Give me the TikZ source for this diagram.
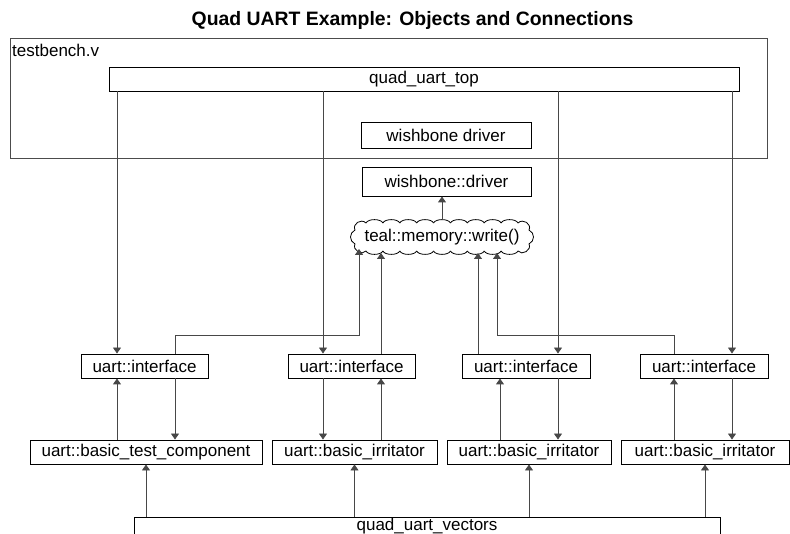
\documentclass[tikz,border=0pt]{standalone}
\usepackage{fontspec}
\setmainfont{Liberation Sans}
\usetikzlibrary{arrows.meta}
\begin{document}
\begin{tikzpicture}[x=1pt,y=-1pt,
  lbl/.style={font=\fontsize{17}{20}\selectfont},
  box/.style={draw=black, line width=0.9pt, inner sep=0pt, lbl},
  conn/.style={draw=black!72, line width=0.9pt, -{Triangle[width=8pt,length=6pt]}},
  cloudline/.style={draw=black, line width=0.8pt}]
\useasboundingbox (0,0) rectangle (790,534);
\clip (0,0) rectangle (790,534);
% title
\node[font=\fontsize{19.4}{22}\selectfont\bfseries, anchor=base, inner sep=0pt] (title) at (412.5,26) {Quad UART Example: Objects and Connections};
% testbench
\node[draw=black!70, line width=0.9pt, minimum width=757pt, minimum height=120pt, inner sep=0pt] (tb) at (388.5,98) {};
\node[lbl, anchor=base west, inner sep=0pt] (tbl) at (12,57) {testbench.v};
% top boxes
\node[box, minimum width=630pt, minimum height=24pt] (top) at (424,79) {quad\_uart\_top};
\node[box, minimum width=170pt, minimum height=26pt] (wd1) at (446,135) {wishbone driver};
\node[box, minimum width=169pt, minimum height=29pt] (wd2) at (446.5,181.5) {wishbone::driver};
% cloud
\node[lbl, inner sep=0pt, minimum width=176pt, minimum height=34pt] (cl) at (442,237) {teal::memory::write()};
\foreach \i in {0,...,8} {
  \draw[cloudline] ({366+\i*16.889},223) .. controls ({366+\i*16.889+2},218.5) and ({366+(\i+1)*16.889-2},218.5) .. ({366+(\i+1)*16.889},223);
  \draw[cloudline] ({366+\i*16.889},251) .. controls ({366+\i*16.889+2},255.5) and ({366+(\i+1)*16.889-2},255.5) .. ({366+(\i+1)*16.889},251);
}
\draw[cloudline] (366,251) .. controls (362,256) and (352,250) .. (355,244)
  .. controls (349,241) and (349,233) .. (355,230)
  .. controls (352,224) and (361,218) .. (366,223);
\draw[cloudline] (518,251) .. controls (522,256) and (532,250) .. (529,244)
  .. controls (535,241) and (535,233) .. (529,230)
  .. controls (532,224) and (523,218) .. (518,223);
% interfaces
\node[box, minimum width=127pt, minimum height=24pt] (I1) at (144.5,366) {uart::interface};
\node[box, minimum width=127pt, minimum height=24pt] (I2) at (351.5,366) {uart::interface};
\node[box, minimum width=128pt, minimum height=24pt] (I3) at (526,366) {uart::interface};
\node[box, minimum width=128pt, minimum height=24pt] (I4) at (704,366) {uart::interface};
% components
\node[box, minimum width=232pt, minimum height=24pt] (B1) at (146,452) {uart::basic\_test\_component};
\node[box, minimum width=165pt, minimum height=24pt] (B2) at (354.5,452) {uart::basic\_irritator};
\node[box, minimum width=164pt, minimum height=24pt] (B3) at (529,452) {uart::basic\_irritator};
\node[box, minimum width=168pt, minimum height=24pt] (B4) at (705,452) {uart::basic\_irritator};
% vectors
\node[box, minimum width=586pt, minimum height=18pt] (vec) at (427,526) {quad\_uart\_vectors};
% column coordinates
\coordinate (xa) at (117,0);
\coordinate (xb) at (175,0);
\coordinate (xc) at (323,0);
\coordinate (xd) at (381,0);
\coordinate (xe) at (478,0);
\coordinate (xe2) at (500,0);
\coordinate (xf) at (558,0);
\coordinate (xg) at (674,0);
\coordinate (xh) at (732,0);
\coordinate (xw) at (442,0);
\coordinate (ya) at (0,335);
\coordinate (c1) at (359,249);
\coordinate (c2) at (381,253);
\coordinate (c3) at (478,253);
\coordinate (c4) at (497,253);
% top -> interfaces
\draw[conn] (top.south -| xa) -- (I1.north -| xa);
\draw[conn] (top.south -| xc) -- (I2.north -| xc);
\draw[conn] (top.south -| xf) -- (I3.north -| xf);
\draw[conn] (top.south -| xh) -- (I4.north -| xh);
% interfaces -> cloud
\draw[conn] (I1.north -| xb) -- (ya -| xb) -- (ya -| c1) -- (c1);
\draw[conn] (I2.north -| xd) -- (c2);
\draw[conn] (I3.north -| xe) -- (c3);
\draw[conn] (I4.north -| xg) -- (ya -| xg) -- (ya -| c4) -- (c4);
% cloud -> wishbone::driver
\draw[conn] (cl.north -| xw) -- (wd2.south -| xw);
% interface <-> components
\draw[conn] (B1.north -| xa) -- (I1.south -| xa);
\draw[conn] (I1.south -| xb) -- (B1.north -| xb);
\draw[conn] (I2.south -| xc) -- (B2.north -| xc);
\draw[conn] (B2.north -| xd) -- (I2.south -| xd);
\draw[conn] (B3.north -| xe2) -- (I3.south -| xe2);
\draw[conn] (I3.south -| xf) -- (B3.north -| xf);
\draw[conn] (B4.north -| xg) -- (I4.south -| xg);
\draw[conn] (I4.south -| xh) -- (B4.north -| xh);
% vectors -> components
\draw[conn] (vec.north -| B1.south) -- (B1.south);
\draw[conn] (vec.north -| B2.south) -- (B2.south);
\draw[conn] (vec.north -| B3.south) -- (B3.south);
\draw[conn] (vec.north -| B4.south) -- (B4.south);
\end{tikzpicture}
\end{document}
